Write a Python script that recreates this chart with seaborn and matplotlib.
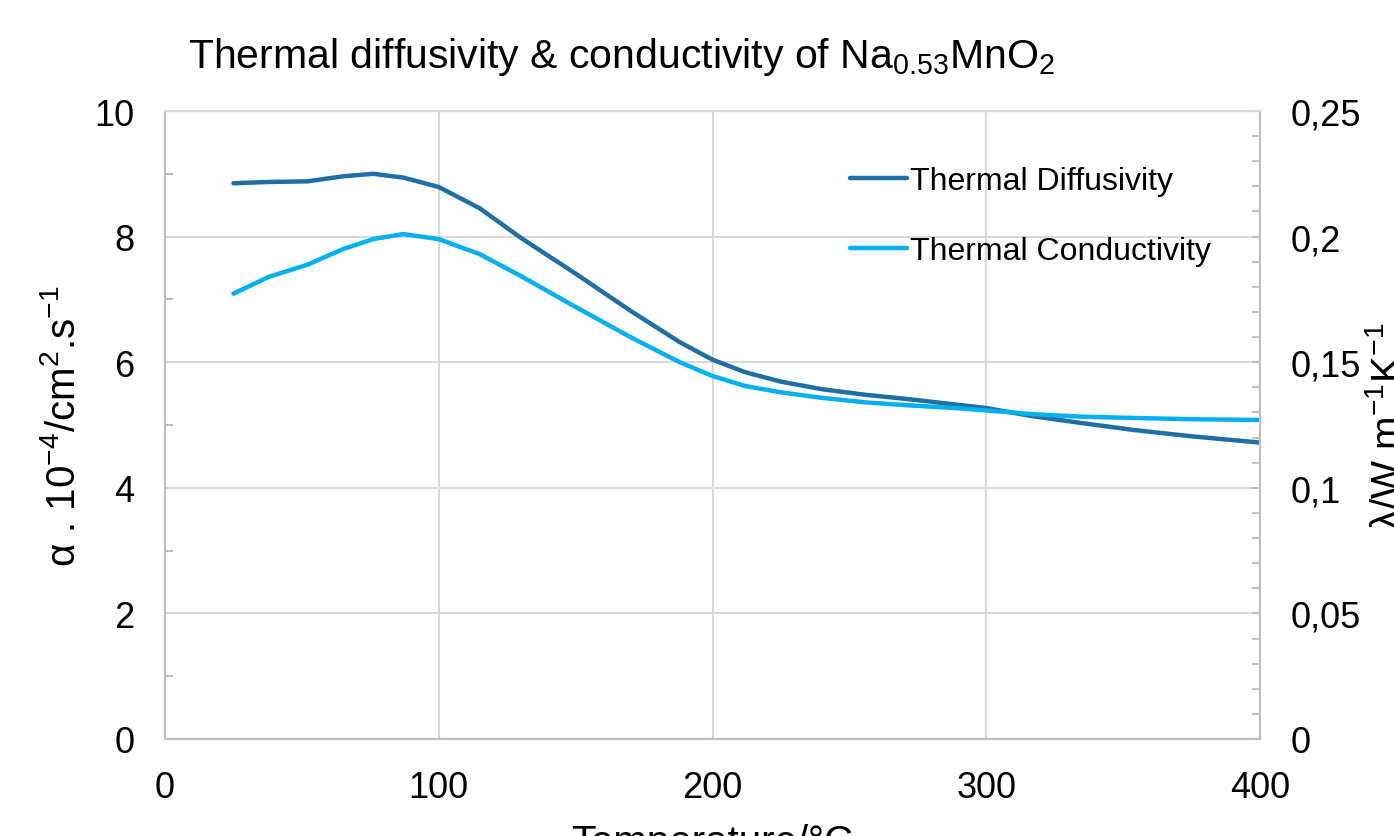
import numpy as np
import pandas as pd
import matplotlib.pyplot as plt
import seaborn as sns
from matplotlib.ticker import MultipleLocator, FuncFormatter

sns.set_style('white')
plt.rcParams['font.family'] = ['Liberation Sans', 'DejaVu Sans']
plt.rcParams['mathtext.fontset'] = 'custom'
plt.rcParams['mathtext.rm'] = 'Liberation Sans'
plt.rcParams['mathtext.it'] = 'Liberation Sans'
plt.rcParams['text.color'] = 'black'
plt.rcParams['axes.labelcolor'] = 'black'
plt.rcParams['xtick.color'] = 'black'
plt.rcParams['ytick.color'] = 'black'

temperature = [25, 38, 52, 65, 76, 87, 100, 115, 130, 150, 170, 188, 200, 212,
               225, 240, 256, 272, 288, 300, 317, 335, 354, 375, 400]
# thermal diffusivity, 10^-4 cm2/s (left axis)
diffusivity = [8.85, 8.87, 8.88, 8.96, 9.00, 8.94, 8.79, 8.45, 7.98, 7.41, 6.82, 6.32, 6.04, 5.84,
               5.69, 5.57, 5.48, 5.41, 5.33, 5.27, 5.14, 5.03, 4.92, 4.82, 4.72]
# thermal conductivity, W/m/K (right axis)
conductivity = [0.1773, 0.1840, 0.1888, 0.1950, 0.1990, 0.2010, 0.1990, 0.1930, 0.1843, 0.1720,
                0.1600, 0.1500, 0.1445, 0.1405, 0.1380, 0.1358, 0.1340, 0.1328, 0.1318, 0.1308,
                0.1293, 0.1283, 0.1278, 0.1273, 0.1270]

df = pd.DataFrame({'T': temperature, 'alpha': diffusivity, 'lam': conductivity})

dark = '#1f6fa3'
light = '#00b0f0'
grid = '#d9d9d9'
spine = '#bfbfbf'

fig = plt.figure(figsize=(13.94, 8.37), dpi=100)
ax = fig.add_axes([165 / 1394, 1 - 740 / 837, 1095 / 1394, 628 / 837])
ax2 = ax.twinx()

sns.lineplot(data=df, x='T', y='alpha', ax=ax, color=dark, lw=3.2, label='Thermal Diffusivity', legend=False)
sns.lineplot(data=df, x='T', y='lam', ax=ax2, color=light, lw=3.2, label='Thermal Conductivity', legend=False)

ax.set_xlim(0, 400)
ax.set_ylim(0, 10)
ax2.set_ylim(0, 0.25)

ax.xaxis.set_major_locator(MultipleLocator(100))
ax.xaxis.set_minor_locator(MultipleLocator(20))
ax.yaxis.set_major_locator(MultipleLocator(2))
ax.yaxis.set_minor_locator(MultipleLocator(1))
ax2.yaxis.set_major_locator(MultipleLocator(0.05))
ax2.yaxis.set_minor_locator(MultipleLocator(0.01))
ax2.yaxis.set_major_formatter(FuncFormatter(lambda v, p: ('%g' % round(v, 2)).replace('.', ',')))

ax.grid(True, which='major', color=grid, lw=1.5)
ax.set_axisbelow(True)
for a in (ax, ax2):
    for s in a.spines.values():
        s.set_color(spine)
        s.set_linewidth(1.5)
    a.spines['top'].set_color(grid)
    a.tick_params(which='both', direction='in', color=spine, width=1.5, labelsize=26, pad=22)
    a.tick_params(which='major', length=0)
    a.tick_params(which='minor', length=6)
ax2.tick_params(which='major', length=6)
ax.tick_params(axis='x', which='major', length=6)

ax.set_xlabel('Temperature/°C', fontsize=29, labelpad=13)
ax.set_ylabel(r'α . 10$^{-4}$/cm$^{2}$.s$^{-1}$', fontsize=29, labelpad=8)
ax2.set_ylabel(r'λ/W.m$^{-1}$K$^{-1}$', fontsize=29, labelpad=6)

fig.text(188 / 1394, 1 - 57 / 837, r'Thermal diffusivity & conductivity of Na$_{0.53}$MnO$_{2}$',
         fontsize=29.5, va='center', ha='left')

h1, l1 = ax.get_legend_handles_labels()
h2, l2 = ax2.get_legend_handles_labels()
ax2.legend(h1 + h2, l1 + l2, loc='upper left', bbox_to_anchor=(0.599, 0.958), frameon=False,
           fontsize=23, handlelength=1.8, handletextpad=0.1, labelspacing=1.25)

fig.savefig('out.png', dpi=100)
